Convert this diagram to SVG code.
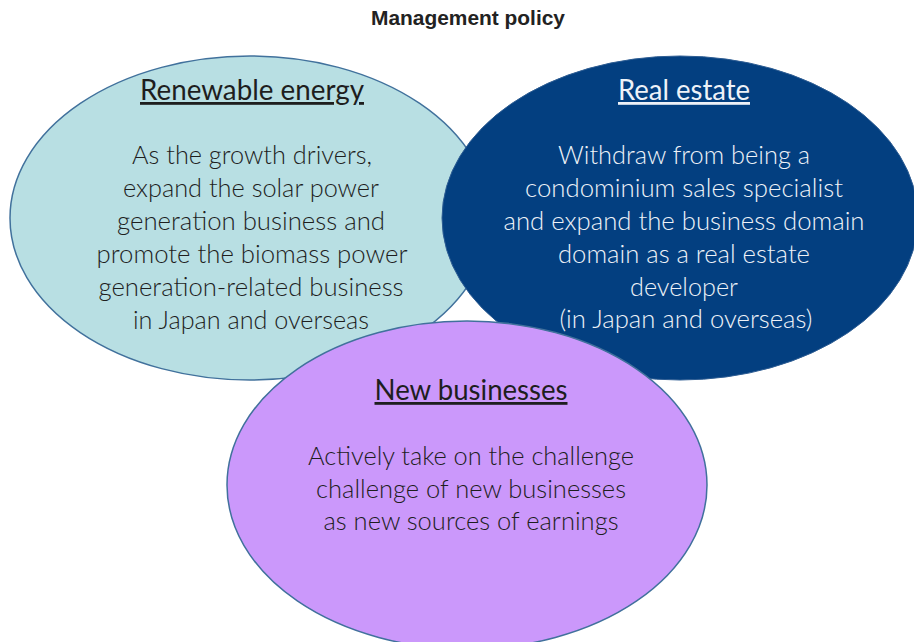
<svg xmlns="http://www.w3.org/2000/svg" width="914" height="642" viewBox="0 0 914 642">
  <style>
    .heading { font-family: "Liberation Sans", Arial, sans-serif; font-weight: bold; font-size: 20px; fill: #222222; }
    .title { font-family: Lato, "Open Sans", sans-serif; font-size: 28px; text-decoration: underline; }
    .body { font-family: Lato, "Open Sans", sans-serif; font-size: 25px; font-weight: 300; }
    .dark { fill: #1e1e1e; }
    .light { fill: #eef2f8; }
    .edge { stroke: #41719c; stroke-width: 1.5; }
  </style>

  <rect width="914" height="642" fill="#ffffff"/>

  <text class="heading" x="468" y="25" text-anchor="middle" textLength="194" lengthAdjust="spacingAndGlyphs">Management policy</text>

  <!-- Renewable energy -->
  <g id="renewable-energy">
    <ellipse cx="250" cy="218" rx="240" ry="162" fill="#b8dfe3" class="edge"/>
    <text class="title dark" x="252" y="100" text-anchor="middle" textLength="224" lengthAdjust="spacingAndGlyphs">Renewable energy</text>
    <g class="body dark" text-anchor="middle">
      <text x="252" y="164" textLength="240" lengthAdjust="spacingAndGlyphs">As the growth drivers,</text>
      <text x="251" y="197" textLength="256" lengthAdjust="spacingAndGlyphs">expand the solar power</text>
      <text x="251" y="230" textLength="268" lengthAdjust="spacingAndGlyphs">generation business and</text>
      <text x="252" y="263" textLength="311" lengthAdjust="spacingAndGlyphs">promote the biomass power</text>
      <text x="251" y="296" textLength="305" lengthAdjust="spacingAndGlyphs">generation-related business</text>
      <text x="251" y="329" textLength="236" lengthAdjust="spacingAndGlyphs">in Japan and overseas</text>
    </g>
  </g>

  <!-- Real estate -->
  <g id="real-estate">
    <ellipse cx="680" cy="218" rx="238" ry="162" fill="#033f80" stroke="#2e5d93" stroke-width="1"/>
    <text class="title light" x="684" y="100" text-anchor="middle" textLength="132" lengthAdjust="spacingAndGlyphs">Real estate</text>
    <g class="body light" text-anchor="middle">
      <text x="684" y="164" textLength="252" lengthAdjust="spacingAndGlyphs">Withdraw from being a</text>
      <text x="684" y="197" textLength="318" lengthAdjust="spacingAndGlyphs">condominium sales specialist</text>
      <text x="684" y="230" textLength="361" lengthAdjust="spacingAndGlyphs">and expand the business domain</text>
      <text x="684" y="263" textLength="252" lengthAdjust="spacingAndGlyphs">domain as a real estate</text>
      <text x="684" y="296" textLength="108" lengthAdjust="spacingAndGlyphs">developer</text>
      <text x="686" y="328" textLength="253" lengthAdjust="spacingAndGlyphs">(in Japan and overseas)</text>
    </g>
  </g>

  <!-- New businesses -->
  <g id="new-businesses">
    <ellipse cx="467" cy="485" rx="240" ry="164" fill="#cb98fb" class="edge"/>
    <text class="title dark" x="471" y="400" text-anchor="middle" textLength="193" lengthAdjust="spacingAndGlyphs">New businesses</text>
    <g class="body dark" text-anchor="middle">
      <text x="471" y="465" textLength="326" lengthAdjust="spacingAndGlyphs">Actively take on the challenge</text>
      <text x="471" y="498" textLength="310" lengthAdjust="spacingAndGlyphs">challenge of new businesses</text>
      <text x="471" y="530" textLength="295" lengthAdjust="spacingAndGlyphs">as new sources of earnings</text>
    </g>
  </g>

  <g id="connectors"/>
</svg>
